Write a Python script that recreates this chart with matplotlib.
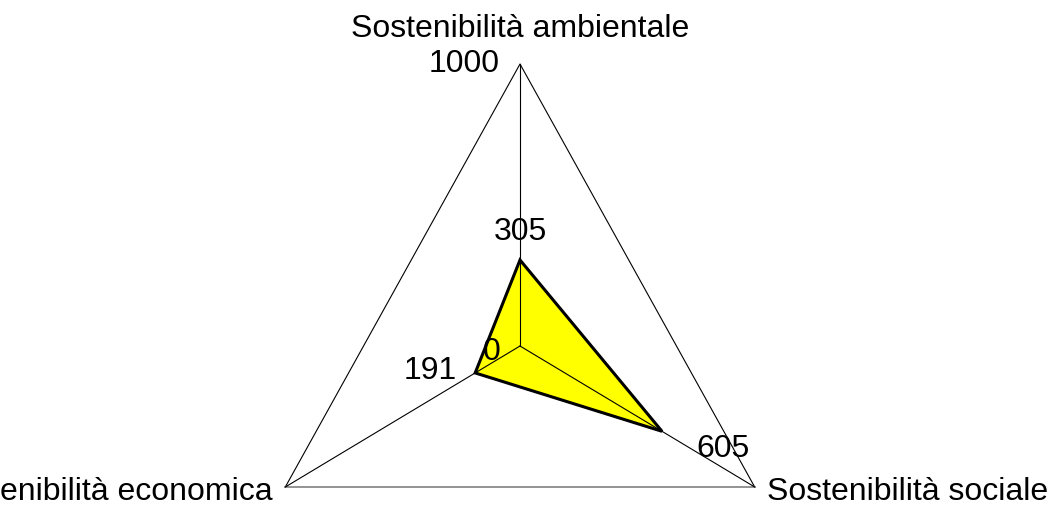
import numpy as np
import matplotlib
matplotlib.use("Agg")
import matplotlib.pyplot as plt

# radar data
categories = ["Sostenibilità ambientale", "Sostenibilità sociale", "Sostenibilità economica"]
values = [305, 605, 191]
scale_max = 1000
scale_min = 0

plt.rcParams['font.family'] = ['Liberation Sans', 'DejaVu Sans']

W, H = 1055, 512
fig = plt.figure(figsize=(W / 100, H / 100), dpi=100)
ax = fig.add_axes([0, 0, 1, 1])

# pixel geometry of the plot area (slightly non-square like the original)
cx, cy = 520, H - 346
sx, sy = 271, 282
ax.set_xlim(-cx / sx, (W - cx) / sx)
ax.set_ylim(-cy / sy, (H - cy) / sy)
ax.axis('off')

angles = np.deg2rad([90, -30, 210])
ux, uy = np.cos(angles), np.sin(angles)

# data polygon
r = np.array(values) / scale_max
px, py = r * ux, r * uy
ax.fill(px, py, facecolor='#FFFF00', edgecolor='none', zorder=1)

# outer triangle
ax.plot([ux[2], ux[0], ux[1]], [uy[2], uy[0], uy[1]], color='black', lw=0.8, zorder=2)
ax.plot([ux[2], ux[1]], [uy[2], uy[1]], color='#808080', lw=1.2, zorder=2)
# spokes (drawn over the fill, like the original)
for i in range(3):
    ax.plot([0, ux[i]], [0, uy[i]], color='black', lw=0.8, zorder=2)

# polygon outline
ax.fill(px, py, facecolor='none', edgecolor='black', lw=2.2, joinstyle='miter', zorder=3)

fs = 23
op = 'offset pixels'

# category labels
ax.annotate(categories[0], (ux[0], uy[0]), xytext=(0, 27), textcoords=op,
            ha='center', va='baseline', fontsize=fs)
ax.annotate(categories[1], (ux[1], uy[1]), xytext=(12, -13), textcoords=op,
            ha='left', va='baseline', fontsize=fs)
ax.annotate(categories[2], (ux[2], uy[2]), xytext=(-13, -13), textcoords=op,
            ha='right', va='baseline', fontsize=fs)

# scale labels
ax.annotate(str(scale_max), (ux[0], uy[0]), xytext=(-20, -8), textcoords=op,
            ha='right', va='baseline', fontsize=fs)
ax.annotate(str(scale_min), (0, 0), xytext=(-20, -14), textcoords=op,
            ha='right', va='baseline', fontsize=fs, zorder=4)

# value labels
ax.annotate(str(values[0]), (px[0], py[0]), xytext=(0, 20), textcoords=op,
            ha='center', va='baseline', fontsize=fs, zorder=4)
ax.annotate(str(values[1]), (px[1], py[1]), xytext=(34, -26), textcoords=op,
            ha='left', va='baseline', fontsize=fs, zorder=4)
ax.annotate(str(values[2]), (px[2], py[2]), xytext=(-18, -6), textcoords=op,
            ha='right', va='baseline', fontsize=fs, zorder=4)

fig.savefig("out.png", dpi=100, facecolor='white')
